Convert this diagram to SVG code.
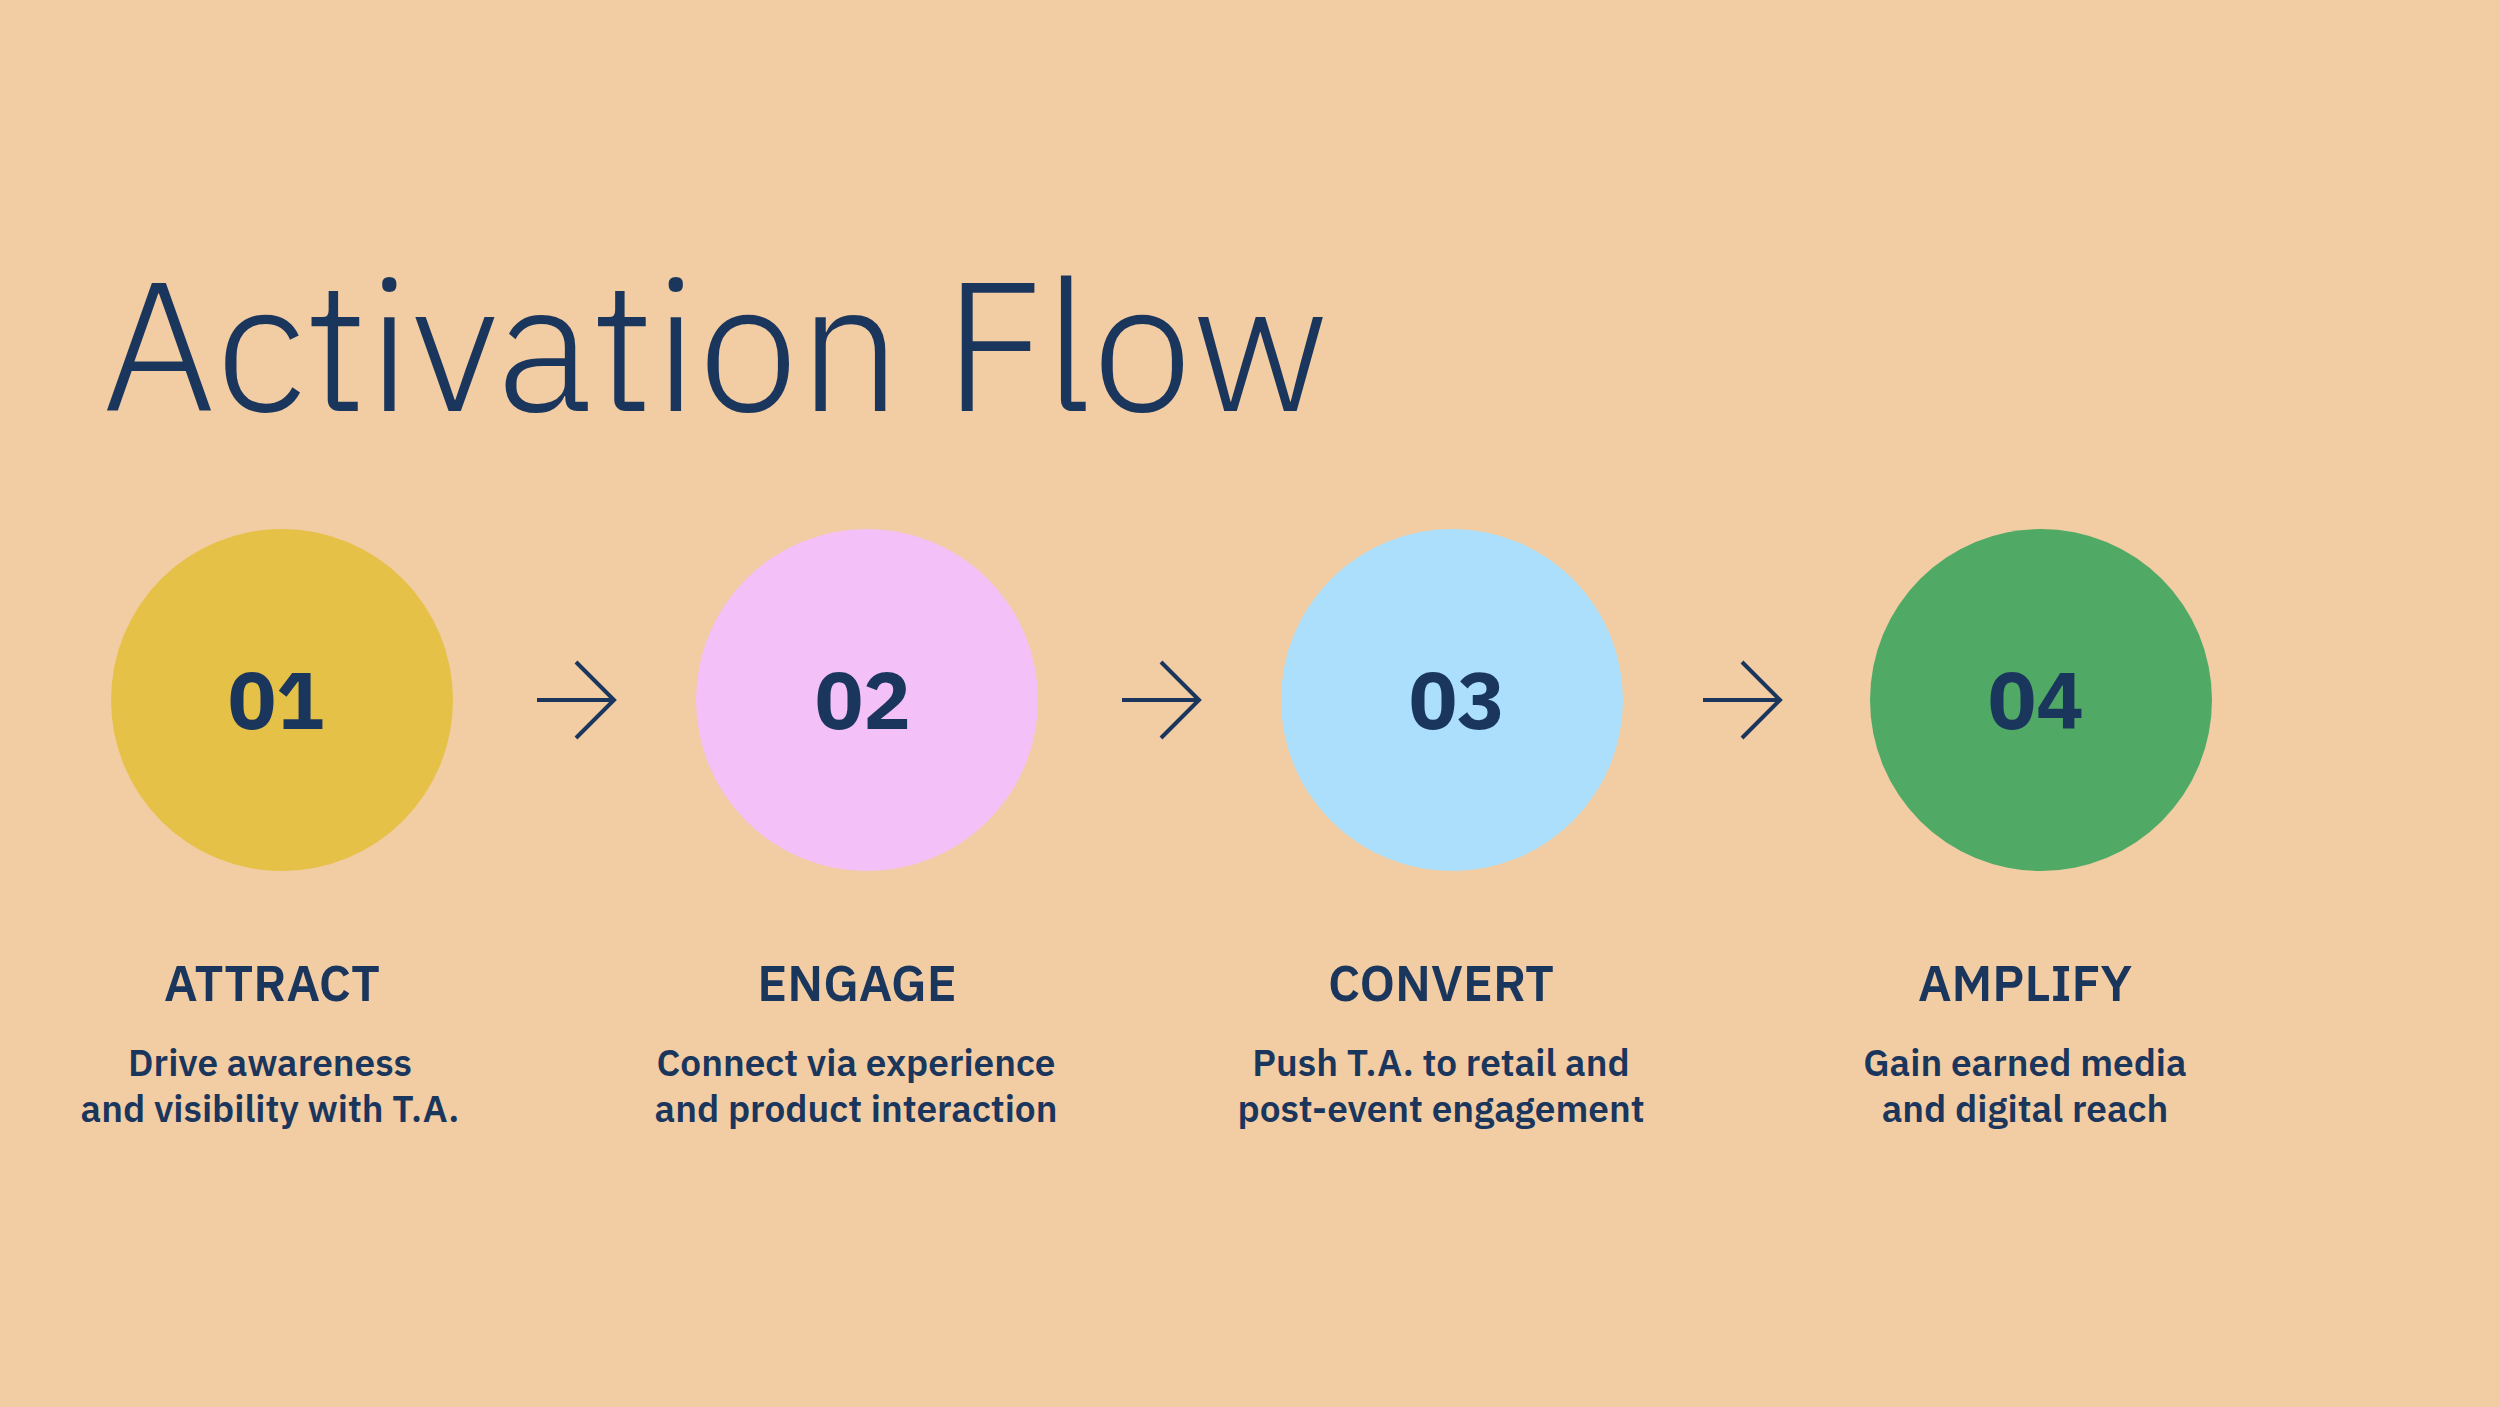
<svg xmlns="http://www.w3.org/2000/svg" width="2500" height="1407" viewBox="0 0 2500 1407">
<style>
text{font-family:"IBM Plex Sans","Open Sans","Liberation Sans",sans-serif;fill:#1B365D;text-anchor:middle}
.num{font-size:80px;font-weight:700}
.lab{font-size:50px;font-weight:600}
.desc{font-size:37px;font-weight:600}
.arr{fill:none;stroke:#1B365D;stroke-width:4}
</style>
<rect width="2500" height="1407" fill="#F2CCA2"/>
<text x="102" y="411" style="font-size:182px;font-weight:300;text-anchor:start">Activation Flow</text>
<g id="connectors">
<path class="arr" d="M537 700H612M576 662L614 700L576 738"/>
<path class="arr" d="M1122 700H1197M1161 662L1199 700L1161 738"/>
<path class="arr" d="M1703 700H1778M1742 662L1780 700L1742 738"/>
</g>
<g id="n1"><circle cx="282" cy="700" r="171" fill="#E5C147"/><text class="num" x="276" y="729">01</text>
<text class="lab" x="272" y="1001">ATTRACT</text><text class="desc" x="270" y="1076">Drive awareness</text><text class="desc" x="270" y="1122">and visibility with T.A.</text></g>
<g id="n2"><circle cx="867" cy="700" r="171" fill="#F4C0F8"/><text class="num" x="863" y="729">02</text>
<text class="lab" x="857" y="1001">ENGAGE</text><text class="desc" x="856" y="1076">Connect via experience</text><text class="desc" x="856" y="1122">and product interaction</text></g>
<g id="n3"><circle cx="1452" cy="700" r="171" fill="#ABDFFB"/><text class="num" x="1457" y="729">03</text>
<text class="lab" x="1441" y="1001">CONVERT</text><text class="desc" x="1441" y="1076">Push T.A. to retail and</text><text class="desc" x="1441" y="1122">post-event engagement</text></g>
<g id="n4"><circle cx="2041" cy="700" r="171" fill="#50AA66"/><text class="num" x="2036" y="729">04</text>
<text class="lab" x="2025" y="1001">AMPLIFY</text><text class="desc" x="2025" y="1076">Gain earned media</text><text class="desc" x="2025" y="1122">and digital reach</text></g>
</svg>
